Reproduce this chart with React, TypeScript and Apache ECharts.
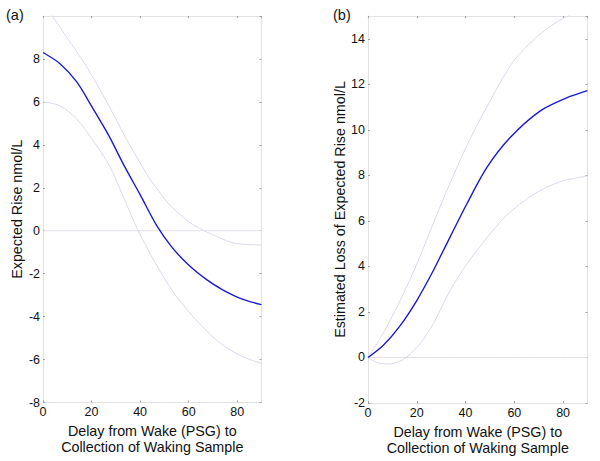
import React, { useEffect, useRef } from "react";
import * as echarts from "echarts";

// Panel (a): Expected rise vs delay
const aMean: number[][] = [
  [0, 8.3], [7, 7.78], [13.9, 6.93], [20, 5.8], [27, 4.45], [33.7, 2.97], [40, 1.68],
  [46.8, 0.25], [53, -0.75], [60, -1.6], [67.4, -2.28], [74, -2.75], [82.4, -3.2], [90, -3.44],
];
const aUpper: number[][] = [
  [0, 10.45], [3.7, 10], [9.7, 9.02], [18, 7.63], [26.5, 5.95], [33, 4.55], [38.6, 3.44],
  [44, 2.4], [47, 1.95], [51, 1.35], [55, 0.9], [60, 0.42], [66, 0.02], [72.8, -0.33],
  [78.3, -0.57], [84, -0.64], [90, -0.67],
];
const aLower: number[][] = [
  [0, 6.0], [7, 5.82], [13.9, 5.2], [20, 4.3], [27.6, 2.97], [33, 1.6], [39, 0.05],
  [46, -1.45], [53.6, -2.85], [61.9, -4.01], [71.5, -5.1], [81, -5.8], [90, -6.18],
];

// Panel (b): Estimated loss of expected rise
const bMean: number[][] = [
  [0, 0], [6.4, 0.55], [13.2, 1.4], [20, 2.5], [26.8, 3.82], [30.9, 4.7], [40.5, 6.74],
  [48.7, 8.34], [58.2, 9.65], [70.5, 10.82], [81.4, 11.4], [90, 11.72],
];
const bUpper: number[][] = [
  [0, 0], [6.4, 1.1], [13.2, 2.5], [20, 4.1], [26.8, 5.9], [33, 7.5], [40.5, 9.3],
  [48.7, 11.0], [59.6, 13.0], [70.5, 14.2], [80, 14.9], [90, 15.4],
];
const bLower: number[][] = [
  [0, 0], [3.7, -0.22], [7.8, -0.29], [11.9, -0.22], [16, 0.03], [21.4, 0.61], [26.8, 1.49],
  [33.7, 2.95], [40.5, 4.1], [48.7, 5.25], [56.9, 6.25], [67.7, 7.15], [78.7, 7.72], [90, 7.97],
];

const zeroLine: number[][] = [[0, 0], [90, 0]];

// Axis ranges
const xRange = [0, 90];
const xStep = 20;
const aYRange = [-8, 10];
const bYRange = [-2, 15];
const yStep = 2;

const xName = "Delay from Wake (PSG) to\nCollection of Waking Sample";
const aYName = "Expected Rise nmol/L";
const bYName = "Estimated Loss of Expected Rise nmol/L";
const panelLabels = ["(a)", "(b)"];

const FONT = 'Arial, "Liberation Sans", Helvetica, sans-serif';
const BOX = "#e2e2e2";
const TICK = "#a0a0a0";
const MEAN = "#1a1ad2";
const BAND = "#d9d9ec";
const ZERO = "#e0e0ec";

function xAxisDef(gridIndex: number, position: "bottom" | "top") {
  const main = position === "bottom";
  return {
    type: "value",
    gridIndex,
    position,
    min: xRange[0],
    max: xRange[1],
    interval: xStep,
    name: main ? xName : "",
    nameLocation: "middle",
    nameGap: 14.5,
    nameTextStyle: { fontFamily: FONT, fontSize: 14.3, color: "#111", lineHeight: 16 },
    axisLine: { show: true, onZero: false, lineStyle: { color: BOX, width: 1 } },
    axisTick: { show: true, inside: true, length: 2, lineStyle: { color: TICK } },
    axisLabel: {
      show: main,
      margin: 3,
      showMaxLabel: false,
      fontFamily: FONT,
      fontSize: 12.5,
      color: "#111",
    },
    splitLine: { show: false },
  };
}

function yAxisDef(gridIndex: number, position: "left" | "right", range: number[], name: string) {
  const main = position === "left";
  return {
    type: "value",
    gridIndex,
    position,
    min: range[0],
    max: range[1],
    interval: yStep,
    name: main ? name : "",
    nameLocation: "middle",
    nameGap: 19,
    nameTextStyle: { fontFamily: FONT, fontSize: 14.3, color: "#111" },
    axisLine: { show: true, onZero: false, lineStyle: { color: BOX, width: 1 } },
    axisTick: { show: true, inside: true, length: 2, lineStyle: { color: TICK } },
    axisLabel: {
      show: main,
      margin: 3,
      showMaxLabel: false,
      fontFamily: FONT,
      fontSize: 12.5,
      color: "#111",
    },
    splitLine: { show: false },
  };
}

function line(data: number[][], axis: number, color: string, width: number) {
  return {
    type: "line",
    xAxisIndex: axis,
    yAxisIndex: axis,
    data,
    showSymbol: false,
    symbol: "none",
    smooth: 0.3,
    clip: true,
    lineStyle: { color, width },
    silent: true,
  };
}

export default function App() {
  const ref = useRef<HTMLDivElement>(null);
  useEffect(() => {
    if (!ref.current) return;
    const chart = echarts.init(ref.current, null, { renderer: "svg" });
    const option: any = {
      animation: false,
      backgroundColor: "#ffffff",
      grid: [
        { left: 43, top: 16, width: 218.5, height: 386.5 },
        { left: 368, top: 16, width: 219.5, height: 387 },
      ],
      xAxis: [
        xAxisDef(0, "bottom"),
        xAxisDef(0, "top"),
        xAxisDef(1, "bottom"),
        xAxisDef(1, "top"),
      ],
      yAxis: [
        yAxisDef(0, "left", aYRange, aYName),
        yAxisDef(0, "right", aYRange, aYName),
        yAxisDef(1, "left", bYRange, bYName),
        yAxisDef(1, "right", bYRange, bYName),
      ],
      graphic: [
        {
          type: "text",
          left: 6,
          top: 7,
          style: { text: panelLabels[0], fontFamily: FONT, fontSize: 14.5, fill: "#111" },
        },
        {
          type: "text",
          left: 333,
          top: 7,
          style: { text: panelLabels[1], fontFamily: FONT, fontSize: 14.5, fill: "#111" },
        },
      ],
      series: [
        line(zeroLine, 0, ZERO, 1),
        line(aUpper, 0, BAND, 1),
        line(aLower, 0, BAND, 1),
        line(aMean, 0, MEAN, 1.4),
        line(zeroLine, 2, ZERO, 1),
        line(bUpper, 2, BAND, 1),
        line(bLower, 2, BAND, 1),
        line(bMean, 2, MEAN, 1.4),
      ],
    };
    chart.setOption(option);
    return () => chart.dispose();
  }, []);
  return (
    <div
      ref={ref}
      style={{ position: "fixed", left: 0, top: 0, width: 600, height: 461, background: "#fff" }}
    />
  );
}
